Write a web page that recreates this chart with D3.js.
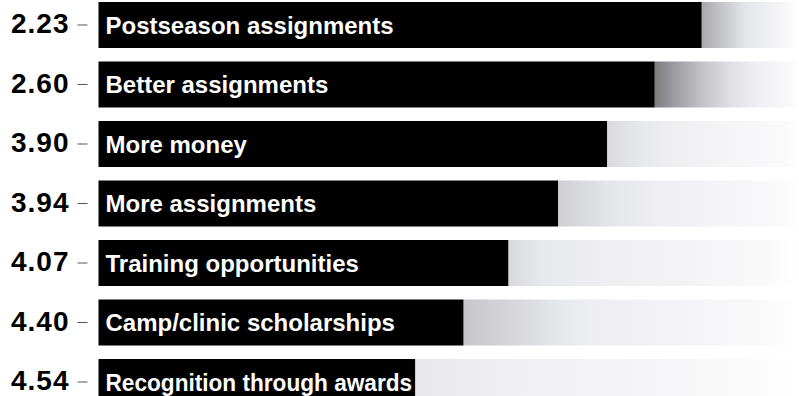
<!DOCTYPE html>
<html>
<head>
<meta charset="utf-8">
<script src="https://cdn.jsdelivr.net/npm/d3@7"></script>
<style>
  html, body { margin: 0; padding: 0; background: #ffffff; overflow: hidden; }
  svg { display: block; }
</style>
</head>
<body>
<svg id="chart" width="799" height="396"></svg>
<script>
// Mean rank shown on the axis for each incentive
const rankLabels = ["2.23", "2.60", "3.90", "3.94", "4.07", "4.40", "4.54"];
// Incentive names printed inside the bars
const reasons = [
  "Postseason assignments",
  "Better assignments",
  "More money",
  "More assignments",
  "Training opportunities",
  "Camp/clinic scholarships",
  "Recognition through awards"
];
// Bar length as a share of the full track (percent)
const barShare = [86.1, 79.4, 72.6, 65.6, 58.5, 52.1, 45.2];

// Fade colours for the track behind each bar: [offset, colour]
const trackFades = [
  [[0, "#a8a8ad"], [0.22, "#c6c6cb"], [0.45, "#e4e7ea"], [0.68, "#efeff4"], [0.9, "#f9f9fa"], [1, "#ffffff"]],
  [[0, "#7c7c7e"], [0.12, "#98989e"], [0.32, "#c0c0c5"], [0.53, "#e0e0e5"], [0.74, "#f0f0f5"], [0.95, "#fafafa"], [1, "#ffffff"]],
  [[0, "#dadade"], [0.17, "#e6e8ec"], [0.35, "#efeff3"], [0.7, "#f6f6f9"], [0.92, "#fafafa"], [1, "#ffffff"]],
  [[0, "#cfcfd3"], [0.22, "#e4e6ea"], [0.4, "#eeeef2"], [0.75, "#f6f6f9"], [0.93, "#fafafa"], [1, "#ffffff"]],
  [[0, "#dadade"], [0.11, "#e6e8ec"], [0.3, "#eeeef2"], [0.68, "#f5f5f8"], [0.88, "#f9f9f9"], [1, "#ffffff"]],
  [[0, "#c6c6cb"], [0.17, "#d8d8dd"], [0.29, "#e6e9ec"], [0.38, "#eeeef2"], [0.7, "#f5f5f9"], [0.9, "#fafafa"], [1, "#ffffff"]],
  [[0, "#e8e8ec"], [0.25, "#f0f0f4"], [0.6, "#f5f5f8"], [0.85, "#fafafa"], [1, "#ffffff"]]
];

const svg = d3.select("#chart");
const trackLeft = 98.5, trackRight = 799;
const axisX = 87.5;
const font = "'Liberation Sans', Arial, Helvetica, sans-serif";

const x = d3.scaleLinear().domain([0, 100]).range([trackLeft, trackRight]);
const y = d3.scaleBand()
  .domain(rankLabels)
  .range([2, 405])
  .paddingInner(0.227)
  .paddingOuter(0);

const rows = rankLabels.map((r, i) => ({ rank: r, reason: reasons[i], share: barShare[i], fade: trackFades[i], i }));

// per-row fade running from the end of the bar to the right edge
const defs = svg.append("defs");
rows.forEach(d => {
  const g = defs.append("linearGradient")
    .attr("id", "fade" + d.i)
    .attr("gradientUnits", "userSpaceOnUse")
    .attr("x1", x(d.share)).attr("x2", trackRight)
    .attr("y1", 0).attr("y2", 0);
  g.selectAll("stop").data(d.fade).join("stop")
    .attr("offset", s => s[0])
    .attr("stop-color", s => s[1]);
});

const row = svg.append("g").selectAll("g").data(rows).join("g");

row.append("rect")
  .attr("x", d => x(d.share))
  .attr("y", d => y(d.rank))
  .attr("width", d => trackRight - x(d.share))
  .attr("height", y.bandwidth())
  .attr("fill", d => `url(#fade${d.i})`);

row.append("rect")
  .attr("x", x(0))
  .attr("y", d => y(d.rank))
  .attr("width", d => x(d.share) - x(0))
  .attr("height", y.bandwidth())
  .attr("fill", "#000000");

const labelPad = 7;
const labels = row.append("text")
  .attr("x", x(0) + labelPad)
  .attr("y", d => y(d.rank) + y.bandwidth() / 2 + 8.6)
  .attr("fill", "#ffffff")
  .attr("font-family", font)
  .attr("font-weight", "bold")
  .attr("font-size", 24)
  .text(d => d.reason);

// squeeze a label that would run past the end of its bar
labels.each(function (d) {
  const room = x(d.share) - x(0) - labelPad - 3;
  const w = this.getComputedTextLength();
  if (w > room) {
    d3.select(this).attr("textLength", room).attr("lengthAdjust", "spacingAndGlyphs");
  }
});

// rank axis on the left
const axis = svg.append("g")
  .attr("transform", `translate(${axisX},0)`)
  .call(d3.axisLeft(y).tickSize(10).tickPadding(8));
axis.select(".domain").remove();
axis.selectAll(".tick line").attr("stroke", "#555555").attr("stroke-width", 1);
axis.selectAll(".tick text")
  .attr("fill", "#000000")
  .attr("font-family", font)
  .attr("font-weight", "bold")
  .attr("font-size", 28)
  .attr("letter-spacing", "1px")
  .attr("dy", "0.3em");
</script>
</body>
</html>
